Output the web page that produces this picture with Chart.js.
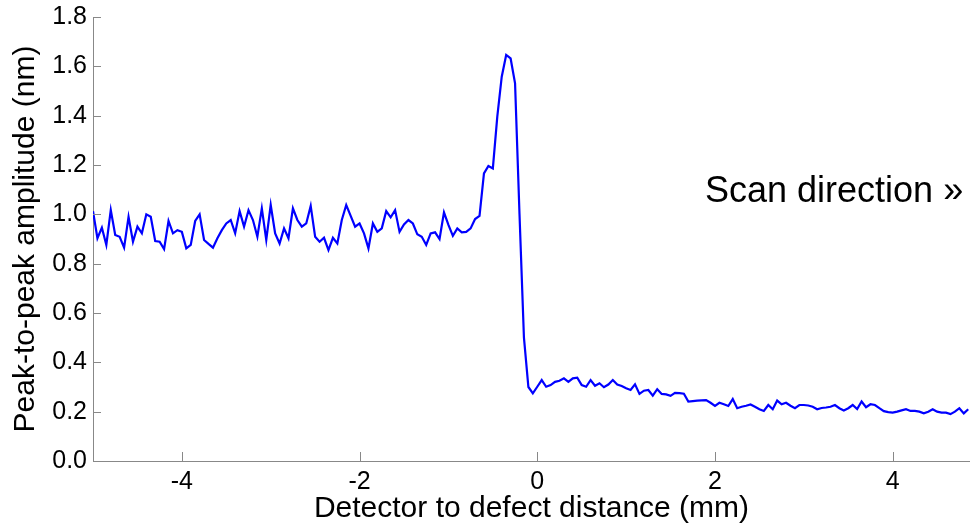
<!DOCTYPE html>
<html>
<head>
<meta charset="utf-8">
<script src="https://cdn.jsdelivr.net/npm/chart.js@4/dist/chart.umd.min.js"></script>
<style>
  html, body { margin: 0; padding: 0; background: #fff; }
  #wrap { width: 970px; height: 527px; }
</style>
</head>
<body>
<div id="wrap"><canvas id="scanChart" width="970" height="527"></canvas></div>
<script>
// sampling grid of the scan (mm)
const X_START = -5;
const X_STEP = 0.05;

// peak-to-peak amplitude (nm), one value per sample
const AMPLITUDE = [
    1.013, 0.903, 0.946, 0.876, 1.017, 0.916, 0.909, 0.865, 0.990, 0.889,
    0.950, 0.923, 1.000, 0.990, 0.892, 0.889, 0.859, 0.973, 0.923, 0.936,
    0.929, 0.862, 0.876, 0.973, 1.000, 0.896, 0.880, 0.865, 0.903, 0.936,
    0.963, 0.977, 0.923, 1.013, 0.950, 1.017, 0.977, 0.909, 1.024, 0.896,
    1.038, 0.923, 0.882, 0.943, 0.903, 1.024, 0.977, 0.950, 0.963, 1.034,
    0.909, 0.889, 0.905, 0.855, 0.905, 0.882, 0.977, 1.038, 0.994, 0.950,
    0.963, 0.923, 0.862, 0.963, 0.929, 0.943, 1.013, 0.988, 1.017, 0.929,
    0.959, 0.977, 0.963, 0.919, 0.909, 0.876, 0.923, 0.927, 0.900, 1.008,
    0.957, 0.913, 0.943, 0.927, 0.929, 0.943, 0.981, 0.994, 1.166, 1.196,
    1.186, 1.396, 1.558, 1.646, 1.632, 1.531, 1.000, 0.500, 0.300, 0.274,
    0.301, 0.328, 0.301, 0.308, 0.321, 0.325, 0.335, 0.321, 0.335, 0.338,
    0.308, 0.301, 0.328, 0.305, 0.315, 0.299, 0.310, 0.328, 0.310, 0.304,
    0.295, 0.288, 0.311, 0.272, 0.285, 0.288, 0.265, 0.291, 0.272, 0.270,
    0.264, 0.276, 0.275, 0.273, 0.241, 0.243, 0.245, 0.246, 0.247, 0.236,
    0.223, 0.236, 0.230, 0.223, 0.251, 0.214, 0.220, 0.224, 0.229, 0.220,
    0.210, 0.203, 0.227, 0.210, 0.245, 0.230, 0.236, 0.224, 0.214, 0.227,
    0.227, 0.225, 0.220, 0.210, 0.215, 0.217, 0.220, 0.227, 0.214, 0.205,
    0.214, 0.227, 0.211, 0.241, 0.218, 0.230, 0.227, 0.214, 0.202, 0.198,
    0.196, 0.200, 0.205, 0.210, 0.203, 0.203, 0.200, 0.193, 0.200, 0.210,
    0.200, 0.196, 0.196, 0.190, 0.200, 0.214, 0.193, 0.210
];

const X_TICKS = [-4, -2, 0, 2, 4];
const Y_TICKS = [0, 0.2, 0.4, 0.6, 0.8, 1.0, 1.2, 1.4, 1.6, 1.8];

const points = AMPLITUDE.map((v, i) => ({ x: X_START + i * X_STEP, y: v }));

const FONT = 'Liberation Sans, Arial, Helvetica, sans-serif';

// MATLAB-style inward tick marks + annotation
const axisDecor = {
    id: 'axisDecor',
    afterDraw(chart) {
        const { ctx, chartArea, scales } = chart;
        ctx.save();
        ctx.strokeStyle = '#888';
        ctx.lineWidth = 1;
        ctx.beginPath();
        X_TICKS.forEach(t => {
            const px = Math.round(scales.x.getPixelForValue(t)) + 0.5;
            ctx.moveTo(px, chartArea.bottom);
            ctx.lineTo(px, chartArea.bottom - 9);
        });
        Y_TICKS.forEach(t => {
            const py = Math.round(scales.y.getPixelForValue(t)) + 0.5;
            ctx.moveTo(chartArea.left, py);
            ctx.lineTo(chartArea.left + 8, py);
        });
        ctx.stroke();

        ctx.fillStyle = '#000';
        ctx.font = '36px ' + FONT;
        ctx.textBaseline = 'middle';
        ctx.textAlign = 'left';
        ctx.fillText('Scan direction \u00bb', 705, 192);
        ctx.restore();
    }
};

new Chart(document.getElementById('scanChart'), {
    type: 'line',
    data: {
        datasets: [{
            data: points,
            borderColor: '#0000ff',
            borderWidth: 2.2,
            pointRadius: 0,
            tension: 0,
            fill: false,
        }]
    },
    options: {
        responsive: false,
        animation: false,
        layout: { padding: { top: 17, right: 0, left: 0, bottom: 0 } },
        plugins: { legend: { display: false }, tooltip: { enabled: false } },
        scales: {
            x: {
                type: 'linear',
                min: -5,
                max: 4.87,
                afterBuildTicks: s => { s.ticks = X_TICKS.map(v => ({ value: v })); },
                afterFit: s => { s.height = 66; s.paddingLeft = 0; s.paddingRight = 0; },
                grid: { display: false, drawTicks: false },
                border: { color: '#888', width: 1 },
                ticks: {
                    color: '#000',
                    padding: 6,
                    font: { family: FONT, size: 25 },
                    maxRotation: 0,
                    callback: v => String(v),
                },
                title: {
                    display: true,
                    text: 'Detector to defect distance (mm)',
                    color: '#000',
                    font: { family: FONT, size: 30 },
                    padding: { top: 0, bottom: 0 },
                }
            },
            y: {
                min: 0,
                max: 1.8,
                afterBuildTicks: s => { s.ticks = Y_TICKS.map(v => ({ value: v })); },
                afterFit: s => { s.width = 93; s.paddingTop = 0; s.paddingBottom = 0; },
                grid: { display: false, drawTicks: false },
                border: { color: '#888', width: 1 },
                ticks: {
                    color: '#000',
                    padding: 6,
                    font: { family: FONT, size: 25 },
                    callback: v => v.toFixed(1),
                },
                title: {
                    display: true,
                    text: 'Peak-to-peak amplitude (nm)',
                    color: '#000',
                    font: { family: FONT, size: 30 },
                    padding: { top: 8, bottom: 0 },
                }
            }
        }
    },
    plugins: [axisDecor]
});
</script>
</body>
</html>
